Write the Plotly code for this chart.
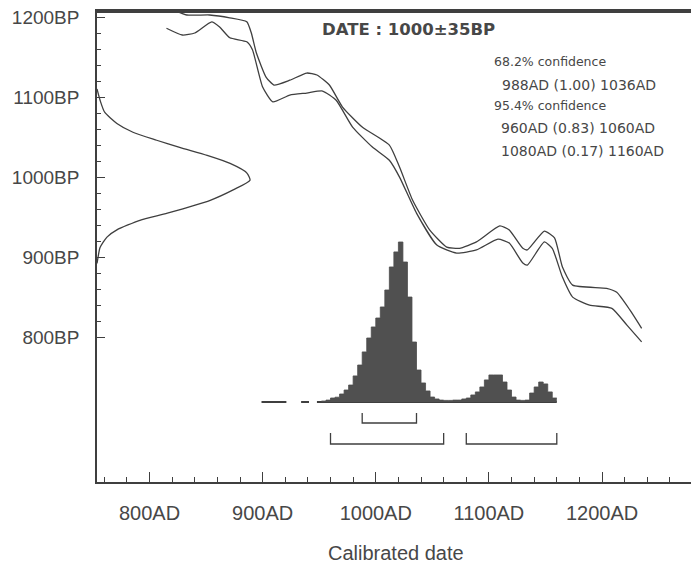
import plotly.graph_objects as go

# ---------------- data ----------------
# calibration curve (upper and lower 1-sigma envelope): calendar year AD, radiocarbon BP
cal_upper_year = [817, 833, 853, 871, 886, 890, 894.5, 903, 910, 924, 939, 948, 959, 970.6, 988,
                  1012, 1021, 1032.6, 1047.6, 1062.7, 1074, 1089, 1109.6, 1118, 1130, 1134, 1149,
                  1158, 1165, 1174, 1204, 1213, 1224.6, 1235]
cal_upper_bp = [1211, 1202.5, 1202.5, 1199, 1194, 1180, 1155, 1125, 1115, 1121, 1130, 1127.5, 1115,
                1087.5, 1062.5, 1040, 1012.5, 971, 934, 912.5, 911, 919, 939, 934, 911, 909, 932.5,
                924, 887.5, 865, 861, 856, 834, 811]
cal_lower_year = [815, 829, 840, 855, 862, 871, 886, 891, 900, 909, 924, 939, 953, 965, 979.5, 997,
                  1012, 1021, 1036, 1054, 1071.5, 1089, 1108, 1118, 1130, 1134, 1149, 1156, 1165,
                  1174, 1189, 1208.7, 1222, 1235]
cal_lower_bp = [1186, 1177.5, 1180, 1194, 1187.5, 1174, 1169, 1159, 1112.5, 1094, 1102.5, 1105,
                1107.5, 1096, 1062.5, 1037.5, 1021, 1000, 955, 915, 905, 909, 922.5, 917.5, 892.5,
                890, 919, 911, 875, 850, 840, 836, 815, 794]

# radiocarbon measurement distribution (BP, relative probability)
meas_bp = [1110, 1096, 1081, 1067, 1056, 1046, 1037, 1027, 1017, 1005, 996, 984, 971, 955, 946,
           934, 925, 912, 900, 892]
meas_prob = [0.0, 0.02, 0.05, 0.13, 0.235, 0.39, 0.54, 0.72, 0.87, 0.98, 1.0, 0.89, 0.74, 0.46,
             0.28, 0.13, 0.065, 0.02, 0.007, 0.0]

# calibrated probability histogram (bin start year AD, width 4 years)
bin_start = [952, 956, 960, 964, 968, 972, 976, 980, 984, 988, 992, 996, 1000, 1004, 1008, 1012,
             1016, 1020, 1024, 1028, 1032, 1036, 1040, 1044, 1048, 1052, 1056, 1060, 1064, 1068,
             1072, 1076, 1080, 1084, 1088, 1092, 1096, 1100, 1104, 1108, 1112, 1116, 1120, 1124,
             1128, 1132, 1136, 1140, 1144, 1148, 1152, 1156]
bin_prob = [0.006, 0.012, 0.025, 0.03, 0.05, 0.075, 0.106, 0.163, 0.231, 0.313, 0.4, 0.469, 0.525,
            0.594, 0.7, 0.844, 0.938, 1.0, 0.875, 0.656, 0.375, 0.2, 0.119, 0.069, 0.031, 0.019,
            0.012, 0.01, 0.01, 0.012, 0.012, 0.019, 0.025, 0.044, 0.063, 0.094, 0.138, 0.169,
            0.169, 0.169, 0.125, 0.075, 0.031, 0.012, 0.01, 0.012, 0.056, 0.094, 0.125, 0.113,
            0.063, 0.025]
bin_width = 4
# low-probability segments drawn as baseline only
tail_from = [899, 934, 948]
tail_to = [921, 941, 1160]

# confidence ranges
range68_from = [988]
range68_to = [1036]
range68_p = [1.00]
range95_from = [960, 1080]
range95_to = [1060, 1160]
range95_p = [0.83, 0.17]

x_ticks = [800, 900, 1000, 1100, 1200]
x_ticktext = ["800AD", "900AD", "1000AD", "1100AD", "1200AD"]
y_ticks = [800, 900, 1000, 1100, 1200]
y_ticktext = ["800BP", "900BP", "1000BP", "1100BP", "1200BP"]
date_label = "DATE : 1000±35BP"
x_title = "Calibrated date"

# ---------------- figure ----------------
INK = "#3f3f3f"
TXT = "#474747"
OFF = 8                      # page body margin
W, H = 699 - OFF, 566 - OFF
ML, MR, MT, MB = 97 - OFF, 0, 3, 84
PW, PH = W - ML - MR, H - MT - MB
X_RANGE = [753.6, 1285.7]
Y_RANGE = [619, 1207.5]


def px_to_paper_x(px):          # px measured in the full 699x566 window
    return (px - OFF - ML) / PW


def px_to_paper_y(py):
    return (H - MB - (py - OFF)) / PH


# histogram axis: baseline (0) at window row 402, peak (1) at window row 242
fb = px_to_paper_y(402)
fp = px_to_paper_y(242)
y2_range = [-fb / (fp - fb), (1 - fb) / (fp - fb)]
# measurement curve axis: 0 at left axis, 1 at window column 250
x2_range = [0, PW / (250 - 97)]

fig = go.Figure()

fig.add_trace(go.Scatter(x=meas_prob, y=meas_bp, xaxis="x2", yaxis="y", mode="lines",
                         line=dict(color=INK, width=1.3, shape="spline", smoothing=0.6),
                         hoverinfo="skip"))
fig.add_trace(go.Scatter(x=cal_upper_year, y=cal_upper_bp, mode="lines",
                         line=dict(color=INK, width=1.3, shape="spline", smoothing=0.5)))
fig.add_trace(go.Scatter(x=cal_lower_year, y=cal_lower_bp, mode="lines",
                         line=dict(color=INK, width=1.3, shape="spline", smoothing=0.5)))

# baseline segments
bx, by = [], []
for a, b in zip(tail_from, tail_to):
    bx += [a, b, None]
    by += [0, 0, None]
fig.add_trace(go.Scatter(x=bx, y=by, xaxis="x", yaxis="y2", mode="lines",
                         line=dict(color=INK, width=2)))

# stepped histogram
hx = bin_start + [bin_start[-1] + bin_width]
hy = bin_prob + [bin_prob[-1]]
fig.add_trace(go.Scatter(x=hx, y=hy, xaxis="x", yaxis="y2", mode="lines",
                         line=dict(color="#4d4d4d", width=0.8, shape="hv"),
                         fill="tozeroy", fillcolor="#505050"))


# confidence brackets
def bracket(froms, tos, top, bottom):
    xs, ys = [], []
    for a, b in zip(froms, tos):
        xs += [a, a, b, b, None]
        ys += [top, bottom, bottom, top, None]
    return xs, ys


def py_to_y2(py):
    return (402 - py) / 160.0


xs, ys = bracket(range68_from, range68_to, py_to_y2(413), py_to_y2(423))
fig.add_trace(go.Scatter(x=xs, y=ys, xaxis="x", yaxis="y2", mode="lines",
                         line=dict(color=INK, width=1.3)))
xs, ys = bracket(range95_from, range95_to, py_to_y2(433), py_to_y2(444))
fig.add_trace(go.Scatter(x=xs, y=ys, xaxis="x", yaxis="y2", mode="lines",
                         line=dict(color=INK, width=1.3)))

# text
ann = []
ann.append(dict(text=date_label, x=px_to_paper_x(320), y=px_to_paper_y(30), xref="paper",
                yref="paper", xanchor="left", yanchor="middle", showarrow=False,
                font=dict(family="DejaVu Sans", size=16.5, color=TXT, weight="bold")))
lines = [("68.2% confidence", 492, 62, 12.5)]
rows_y = [85]
for (a, b, p), yy in zip(zip(range68_from, range68_to, range68_p), rows_y):
    lines.append((f"{a}AD ({p:.2f}) {b}AD", 500, yy, 14))
lines.append(("95.4% confidence", 492, 106, 12.5))
rows_y = [128, 151]
for (a, b, p), yy in zip(zip(range95_from, range95_to, range95_p), rows_y):
    lines.append((f"{a}AD ({p:.2f}) {b}AD", 499, yy, 14))
for t, xx, yy, fs in lines:
    ann.append(dict(text=t, x=px_to_paper_x(xx), y=px_to_paper_y(yy), xref="paper", yref="paper",
                    xanchor="left", yanchor="middle", showarrow=False,
                    font=dict(family="DejaVu Sans", size=fs, color=TXT)))
ann.append(dict(text=x_title, x=px_to_paper_x(396), y=px_to_paper_y(553), xref="paper",
                yref="paper", xanchor="center", yanchor="middle", showarrow=False,
                font=dict(family="Liberation Sans", size=20, color=TXT)))

# top frame: thin filled band just inside the plot area
band = 2.0 / PH
fig.update_layout(
    width=W, height=H,
    margin=dict(l=ML, r=MR, t=MT, b=MB, autoexpand=False),
    paper_bgcolor="white", plot_bgcolor="white",
    showlegend=False,
    annotations=ann,
    shapes=[dict(type="rect", xref="paper", yref="paper", x0=0, x1=1, y0=1 - band, y1=1,
                 layer="above", fillcolor=INK, line=dict(width=0))],
    xaxis=dict(range=X_RANGE, showline=True, linecolor=INK, linewidth=1.5, mirror=True,
               ticks="inside", ticklen=10, tickwidth=1.3, tickcolor=INK, automargin=False,
               tickvals=x_ticks, ticktext=x_ticktext, ticklabelstandoff=12,
               ticklabeloverflow="allow",
               tickfont=dict(family="Liberation Sans", size=20, color=TXT),
               minor=dict(ticks="inside", ticklen=5, tickwidth=1.2, tickcolor=INK,
                          tickvals=list(range(760, 1281, 20))),
               showgrid=False, zeroline=False),
    yaxis=dict(range=Y_RANGE, showline=True, linecolor=INK, linewidth=1.5, mirror=False,
               ticks="inside", ticklen=8, tickwidth=1.3, tickcolor=INK, automargin=False,
               tickvals=y_ticks, ticktext=y_ticktext, ticklabelstandoff=12,
               ticklabeloverflow="allow",
               tickfont=dict(family="Liberation Sans", size=19, color=TXT),
               minor=dict(ticks="inside", ticklen=4, tickwidth=1.2, tickcolor=INK,
                          tickvals=list(range(800, 1201, 20))),
               showgrid=False, zeroline=False),
    xaxis2=dict(overlaying="x", range=x2_range, visible=False),
    yaxis2=dict(overlaying="y", range=y2_range, visible=False),
)

fig.write_html("out.html")
